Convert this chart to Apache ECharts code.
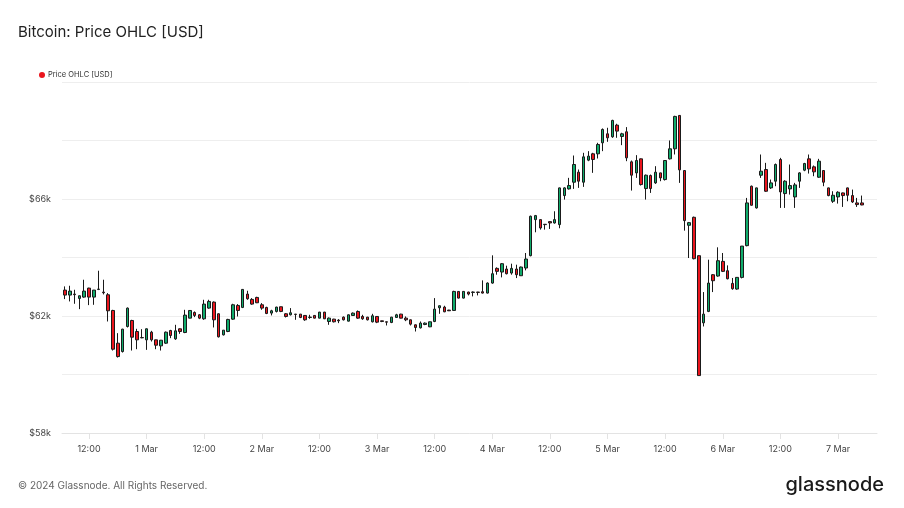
<!DOCTYPE html>
<html>
<head>
<meta charset="utf-8">
<script src="https://cdn.jsdelivr.net/npm/echarts@6/dist/echarts.min.js"></script>
<style>
html,body{margin:0;padding:0;background:#fff;}
#chart{width:904px;height:508px;}
</style>
</head>
<body>
<div id="chart"></div>
<script>
// Hourly candles, first candle Feb 29 2024 07:00 UTC
const firstCandle = Date.UTC(2024, 1, 29, 7);
const HOUR = 3600000;

const openP = [62886,62715,62750,62600,62646,62954,62646,62909,62817,62726,
62189,61071,60785,61641,61847,61470,61265,61185,61447,61185,
60979,61071,61504,61219,61562,61436,61927,62121,62042,61904,
62270,62475,62076,61356,61471,61893,62361,62293,62749,62567,
62635,62384,62293,62099,62156,62316,62076,62042,62064,62064,
62019,61950,62019,61927,62133,61813,61893,61859,61961,61824,
62018,62155,61984,61961,61802,61984,61836,61802,61779,61950,
62064,61927,61870,61699,61596,61710,61630,61813,62281,62304,
62201,62190,62840,62612,62818,62807,62818,62830,62784,63126,
63628,63503,63606,63469,63606,63377,63640,64062,65295,65295,
65136,65227,65181,65125,66117,66346,66574,66917,66574,67328,
67545,67545,67921,68229,68127,68526,68138,68298,67270,66893,
67373,66357,66802,66551,66893,66665,67373,67716,68857,66973,
65101,65375,64062,61767,62156,63411,63366,63868,63548,63114,
62921,63320,64405,66437,65695,66813,67008,66380,66608,67350,
66185,66345,66071,66608,66985,67373,67099,66745,66973,66380,
65923,66071,66208,66380,66117,65866,65866];

const closeP = [62715,62852,62730,62692,62852,62646,62886,62920,62795,62178,
60865,60613,61550,62269,61276,61185,61253,61562,61185,61002,
61173,61447,61333,61493,61470,62030,62189,62019,61927,62407,
62498,61870,61288,61516,61882,62384,62190,62909,62590,62407,
62452,62270,62087,62178,62304,62156,61984,62110,62053,61950,
61870,61962,61927,62133,61904,61927,61802,61836,61870,62041,
62098,61927,61904,61870,62007,61790,61813,61790,61961,62041,
61927,61870,61722,61607,61756,61756,61802,62235,62350,62144,
62178,62840,62612,62841,62750,62818,62807,62784,63126,63446,
63526,63788,63446,63628,63412,63674,63948,65410,65432,65010,
65125,65181,65295,66380,66380,66460,67179,66609,67441,67465,
67351,67864,68378,68092,68686,68321,68229,67407,66814,67316,
66494,66814,66357,66916,66722,67316,67716,68823,66996,65261,
65192,63959,59963,62064,63126,63206,63891,63526,63274,62932,
63320,64390,65866,65786,66380,66950,66265,66551,67179,66243,
66608,66459,66482,66893,67213,67030,66928,67293,66574,66117,
66128,66231,66117,66128,65900,65809,65797];

const lowP = [62578,62498,62418,62235,62623,62372,62383,62886,62738,61813,
60819,60580,60751,61607,60819,60865,61240,60842,61128,60865,
60819,61048,61242,61185,61390,61413,61920,61962,61893,61870,
62247,61608,61265,61334,61448,61870,61984,62270,62555,62384,
62441,62213,62064,62019,62121,62133,61950,62019,61870,61927,
61836,61904,61920,61920,61895,61699,61779,61756,61847,61815,
62007,61904,61870,61847,61779,61756,61790,61676,61756,61945,
61920,61824,61676,61470,61573,61687,61620,61790,62075,62130,
62170,62180,62600,62600,62704,62670,62704,62770,62770,63103,
63412,63320,63423,63412,63297,63370,63560,64040,64862,64953,
64953,64976,65158,65000,65980,66323,66346,66380,66414,67293,
66894,67385,67636,67955,68092,68092,67841,67293,66288,66722,
66460,65980,66208,66517,66608,66631,67350,67522,66551,64918,
63982,63936,59963,61642,62133,62818,63343,63503,63252,62898,
62898,63286,64382,65775,65672,66722,66243,66345,66437,65695,
65695,66151,65695,66380,66950,66870,66779,66722,66437,66094,
65866,65843,65729,65923,65866,65729,65786];

const highP = [63012,63034,62897,62700,63240,62966,62890,63548,63240,62783,
62212,61413,61562,62292,61870,61562,61550,61575,61493,61190,
61180,61470,61527,61699,61575,62212,62200,62156,62065,62555,
62555,62498,62090,61520,61904,62418,62407,62920,62863,62612,
62658,62441,62316,62213,62316,62320,62099,62270,62070,62070,
62030,62042,62025,62140,62140,61950,61904,61893,61984,62050,
62121,62190,62041,61970,62075,61995,61840,61805,61970,62075,
62075,61984,61880,61710,61813,61779,61810,62612,62360,62350,
62210,62863,62850,62850,62830,62841,62825,63218,63149,64074,
63663,63811,63720,63788,63754,63690,64154,65432,65455,65300,
65140,65235,65581,66390,66403,66723,67487,67008,67579,67636,
67579,67921,68412,68435,68709,68572,68264,68458,67316,67499,
67385,66836,66836,67122,66900,67320,68001,68846,68869,66980,
65215,65398,64074,62818,63925,63434,64348,64154,63731,63300,
63330,64390,66037,66459,66390,67521,67236,66665,67213,67407,
66642,67179,66551,66916,67236,67521,67145,67373,66980,66390,
66265,66265,66220,66390,66322,66037,66117];

const xTickTimes = [
  Date.UTC(2024,1,29,12), Date.UTC(2024,2,1,0), Date.UTC(2024,2,1,12),
  Date.UTC(2024,2,2,0), Date.UTC(2024,2,2,12), Date.UTC(2024,2,3,0),
  Date.UTC(2024,2,3,12), Date.UTC(2024,2,4,0), Date.UTC(2024,2,4,12),
  Date.UTC(2024,2,5,0), Date.UTC(2024,2,5,12), Date.UTC(2024,2,6,0),
  Date.UTC(2024,2,6,12), Date.UTC(2024,2,7,0)
];
const xTickLabels = ['12:00','1 Mar','12:00','2 Mar','12:00','3 Mar','12:00',
  '4 Mar','12:00','5 Mar','12:00','6 Mar','12:00','7 Mar'];

const yLabelValues = [58000, 62000, 66000];
const yLabelTexts = ['$58k', '$62k', '$66k'];

const candleData = openP.map((o, i) => [firstCandle + i * HOUR, o, closeP[i], lowP[i], highP[i]]);
const lastCandle = firstCandle + (openP.length - 1) * HOUR;

const chart = echarts.init(document.getElementById('chart'), null, {renderer: 'canvas'});
const FONT = 'Inter, "Noto Sans", sans-serif';
chart.setOption({
  animation: false,
  backgroundColor: '#fff',
  textStyle: {fontFamily: FONT},
  title: {
    text: 'Bitcoin: Price OHLC [USD]',
    left: 18, top: 25, padding: 0,
    textStyle: {fontSize: 15, fontWeight: 'normal', color: '#222', fontFamily: FONT}
  },
  grid: {left: 62, right: 27, top: 82, bottom: 75, containLabel: false},
  xAxis: {
    type: 'value',
    scale: true,
    min: firstCandle - 0.625 * HOUR,
    max: lastCandle + 3.125 * HOUR,
    axisLine: {show: true, onZero: false, lineStyle: {color: '#e3e3e3', width: 1}},
    axisTick: {show: true, length: 6, lineStyle: {color: '#e3e3e3'}, customValues: xTickTimes},
    axisLabel: {
      customValues: xTickTimes,
      formatter: function (v) {
        const idx = xTickTimes.indexOf(v);
        return idx >= 0 ? xTickLabels[idx] : '';
      },
      fontSize: 9, color: '#444', margin: 12, fontFamily: FONT
    },
    splitLine: {show: false}
  },
  yAxis: {
    type: 'value',
    min: 58000, max: 70000, interval: 2000,
    position: 'left',
    axisLine: {show: false},
    axisTick: {show: false},
    splitLine: {show: true, lineStyle: {color: '#eeeeee', width: 1}},
    axisLabel: {
      formatter: function (v) {
        const idx = yLabelValues.indexOf(v);
        return idx >= 0 ? yLabelTexts[idx] : '';
      },
      fontSize: 9, color: '#444', margin: 11, fontFamily: FONT,
      padding: [0, 0, 4, 0]
    }
  },
  series: [{
    name: 'Price OHLC [USD]',
    type: 'candlestick',
    data: candleData,
    barWidth: 3,
    itemStyle: {
      color: '#0fab6b',
      color0: '#ea151d',
      borderColor: '#1a1a1a',
      borderColor0: '#1a1a1a',
      borderWidth: 1
    }
  }],
  graphic: [
    {type: 'circle', shape: {cx: 42, cy: 75, r: 3}, style: {fill: '#ea151d'}},
    {type: 'text', x: 48, y: 75, style: {text: 'Price OHLC [USD]', fontSize: 7.5, fill: '#333', fontFamily: FONT, verticalAlign: 'middle'}},
    {type: 'text', x: 18, y: 486, style: {text: '\u00A9 2024 Glassnode. All Rights Reserved.', fontSize: 10, fill: '#666', fontFamily: FONT, verticalAlign: 'middle'}},
    {type: 'text', x: 884, y: 485, style: {text: 'glassnode', fontSize: 20, fill: '#1a1a1a', fontFamily: FONT, align: 'right', verticalAlign: 'middle', fontWeight: 500}}
  ]
});
</script>
</body>
</html>
